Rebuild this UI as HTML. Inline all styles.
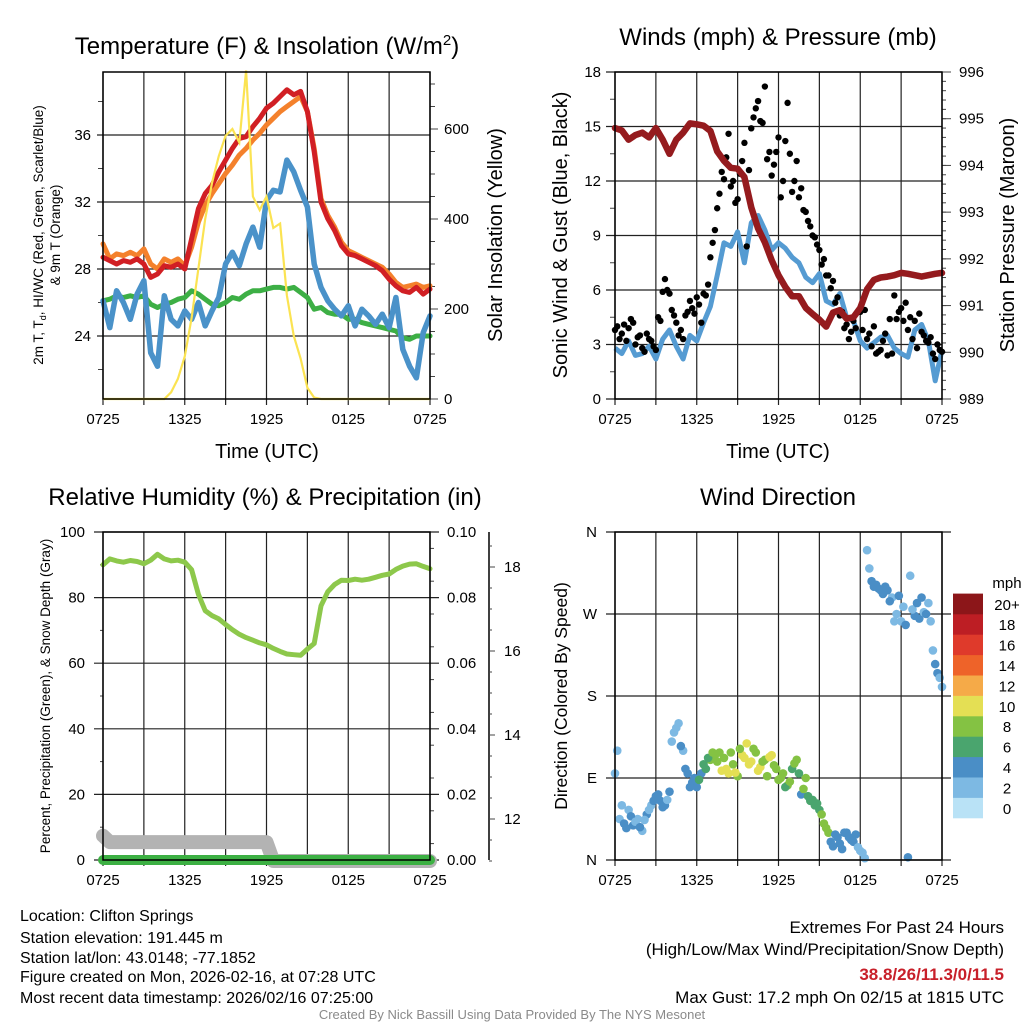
<!DOCTYPE html>
<html><head><meta charset="utf-8"><style>
html,body{margin:0;padding:0;background:#fff;}
svg{display:block;font-family:"Liberation Sans",sans-serif;}
</style></head><body>
<svg id="root" width="1024" height="1024" viewBox="0 0 1024 1024" xmlns="http://www.w3.org/2000/svg"></svg>
<script>
// ---------- DATA ----------
const timeLabels = ["0725","1325","1925","0125","0725"];
const tempTicks = [24,28,32,36];
const solarTicks = [0,200,400,600];
const windTicks = [0,3,6,9,12,15,18];
const presTicks = [989,990,991,992,993,994,995,996];
const rhTicks = [0,20,40,60,80,100];
const precipTicks = ["0.00","0.02","0.04","0.06","0.08","0.10"];
const snowTicks = [12,14,16,18];
const dirTickLabels = ["N","E","S","W","N"];
const speedBinLabels = ["0","2","4","6","8","10","12","14","16","18","20+"];
const speedBinColors = ["#b9e2f6","#7db9e3","#4a8ec6","#4aa56e","#84c243","#e4df54","#f5aa48","#ee6329","#df3a2b","#bd1e24","#8c1619"];

// half-hourly series (49 values, 0..24 h)
const tempRed = [28.7,28.5,28.3,28.5,28.4,28.6,28.3,27.5,27.7,28.2,28.1,28.3,28.0,29.8,31.6,32.5,33.0,33.8,34.5,35.2,35.8,35.9,36.5,37.0,37.6,37.9,38.3,38.7,38.4,38.6,37.4,35.0,32.0,31.0,30.3,29.4,28.9,28.8,28.6,28.4,28.2,27.9,27.4,27.0,26.7,26.6,26.9,26.5,26.8];
const tempOrange = [29.5,28.6,28.9,28.8,29.0,28.8,29.2,28.3,28.0,28.6,28.4,28.6,28.2,29.3,30.8,31.8,32.5,33.1,33.7,34.2,34.8,35.2,35.7,36.1,36.6,37.0,37.4,37.7,38.0,38.3,37.4,35.2,32.2,31.2,30.5,29.6,29.1,28.9,28.7,28.5,28.3,28.1,27.7,27.2,26.9,27.0,27.1,26.9,27.0];
const dewGreen = [26.1,26.2,26.4,26.3,26.4,26.3,26.4,25.9,25.7,25.9,26.0,26.2,26.3,26.7,26.5,26.2,25.9,25.8,26.0,26.3,26.2,26.5,26.7,26.7,26.8,26.9,26.9,26.8,26.9,26.6,26.3,25.6,25.7,25.4,25.3,25.3,25.0,25.0,24.8,24.7,24.6,24.5,24.4,24.3,23.9,23.8,24.0,24.0,24.0];
const chillBlue = [26.1,24.5,26.7,26.0,25.0,26.5,27.3,23.0,22.2,26.4,25.0,24.6,25.5,25.0,26.0,24.6,25.5,26.3,28.3,29.0,28.2,29.5,30.5,29.3,32.1,32.7,32.6,34.5,33.8,32.7,31.7,28.3,26.9,26.1,25.6,25.2,25.8,24.6,25.6,25.2,24.7,25.3,24.5,26.3,23.2,22.2,21.5,24.2,25.2];
const solarYellow = [0,0,0,0,0,0,0,0,0,0,15,45,95,180,290,400,480,540,585,600,570,730,450,420,450,380,390,230,140,90,25,3,0,0,0,0,0,0,0,0,0,0,0,0,0,0,0,0,0];
const windBlue = [2.8,2.5,3.2,2.4,2.5,2.9,2.2,3.3,3.8,2.9,2.2,3.5,3.2,4.2,5.1,6.8,8.6,8.4,9.2,7.5,9.7,10.1,9.3,8.2,8.6,8.3,7.8,7.5,6.7,6.4,6.9,5.4,5.2,5.8,4.5,4.3,3.2,2.8,3.1,3.4,3.5,2.8,2.5,2.3,3.8,4.1,3.2,1.0,2.7];
const pressure = [994.8,994.75,994.55,994.65,994.7,994.6,994.8,994.55,994.25,994.55,994.7,994.9,994.88,994.85,994.74,994.3,994.1,993.95,993.93,993.75,993.1,992.65,992.35,991.97,991.65,991.4,991.2,991.2,990.95,990.82,990.7,990.55,990.85,990.9,990.72,990.75,990.95,991.35,991.55,991.6,991.62,991.65,991.7,991.68,991.65,991.62,991.65,991.68,991.7];
const rhGreen = [90,91.8,91.2,90.8,91.3,91.0,90.3,91.4,93.2,91.8,91.2,91.4,90.8,88.5,81,76,74.5,73.5,71.8,70.2,68.8,67.8,67,66.2,65.6,64.5,63.6,62.8,62.6,62.4,64.3,66,77.5,81.8,84,85.3,85.2,85.6,85.3,85.6,86.2,86.8,87.2,88.6,89.6,90.2,90.3,89.5,88.8];
const precip = [0,0,0,0,0,0,0,0,0,0,0,0,0,0,0,0,0,0,0,0,0,0,0,0,0,0,0,0,0,0,0,0,0,0,0,0,0,0,0,0,0,0,0,0,0,0,0,0,0];
const snowDepth = [11.6,11.45,11.45,11.45,11.45,11.45,11.45,11.45,11.45,11.45,11.45,11.45,11.45,11.45,11.45,11.45,11.45,11.45,11.45,11.45,11.45,11.45,11.45,11.45,11.45,11.0,11.0,11.0,11.0,11.0,11.0,11.0,11.0,11.0,11.0,11.0,11.0,11.0,11.0,11.0,11.0,11.0,11.0,11.0,11.0,11.0,11.0,11.0,11.0];

// 20-minute series (73 values, h = i/3)
const gusts = [3.8,3.3,4.1,3.9,4.2,3.4,2.8,3.6,3.2,2.7,4.3,6.6,5.8,4.6,3.5,3.3,4.8,5.0,5.6,4.2,5.7,7.8,9.3,11.3,12.1,14.6,12.0,11.0,13.1,8.4,14.9,16.0,15.3,17.2,13.6,12.9,14.4,12.0,16.3,11.4,13.1,11.6,10.3,9.5,8.9,8.2,7.7,6.8,6.5,5.6,4.8,4.1,3.7,3.9,4.8,4.9,3.6,4.0,2.6,3.2,2.4,2.5,4.4,5.0,5.3,4.5,4.3,4.7,3.5,3.1,2.5,3.0,2.6];
const windDir = [95,45,40,55,38,45,32,50,60,70,65,60,75,140,150,120,95,85,80,95,100,110,115,118,112,95,105,92,115,128,108,118,102,110,113,104,88,95,82,100,110,72,90,65,60,55,40,30,15,25,12,30,22,28,10,2,320,300,298,292,296,288,270,262,258,312,268,265,272,282,230,205,190];
const dirSpeed = [2.6,2.4,3.2,2.8,3.4,2.7,2.5,3.1,2.9,4.0,3.6,4.2,3.3,2.8,2.4,2.6,4.1,4.3,4.2,3.8,6.5,7.2,8.4,8.6,7.8,9.4,8.8,8.2,9.6,9.3,9.8,8.9,9.5,8.6,9.2,8.4,8.3,7.9,8.5,6.8,7.2,4.2,8.0,6.5,6.7,6.4,8.2,7.9,4.3,3.9,4.4,3.7,4.1,3.0,2.6,2.5,2.8,3.2,4.3,4.4,3.8,2.7,2.9,2.6,3.6,2.2,3.8,3.5,1.4,2.5,2.8,3.3,2.7];
// offset 20-minute series (72 values, h = i/3 + 1/6)
const gustsB = [4.0,3.6,3.2,4.4,3.0,3.5,2.6,3.3,2.9,4.5,5.9,6.0,4.9,4.2,3.8,4.6,5.4,4.7,5.2,5.8,6.3,8.6,10.5,12.5,13.3,11.7,10.8,12.4,14.1,12.6,15.5,16.4,15.2,13.2,12.3,13.6,11.1,14.2,13.5,12.0,11.1,10.4,9.8,9.0,8.5,7.4,6.8,6.1,5.3,4.6,3.9,3.3,4.3,4.8,3.8,3.3,2.9,2.5,2.7,3.6,4.4,5.7,4.8,4.3,3.8,3.3,2.8,3.7,3.2,3.4,2.2,2.7];
const windDirB = [120,60,35,48,42,36,44,55,65,72,58,66,130,145,125,100,80,90,88,105,112,118,108,98,100,118,96,122,112,105,122,98,108,92,115,100,90,80,86,106,95,78,70,66,62,50,35,20,28,18,30,25,20,14,8,340,306,302,296,300,284,262,290,278,3,275,282,288,270,262,215,200];
const dirSpeedB = [2.5,2.7,3.0,4.1,2.6,3.2,2.4,2.9,3.8,4.2,3.5,2.8,2.7,2.3,3.0,4.4,4.1,4.5,5.2,6.4,6.9,8.3,8.7,9.5,9.4,8.2,9.7,8.6,9.9,9.1,8.8,9.4,8.0,8.7,9.2,7.6,8.3,6.6,7.7,8.2,6.9,7.4,6.3,6.6,6.2,8.4,7.8,4.2,4.5,3.9,4.1,3.6,4.3,2.7,2.9,2.6,3.4,4.0,4.2,3.9,3.1,2.7,3.3,1.2,3.7,2.4,3.0,4.1,3.2,2.8,3.0,2.6];

// ---------- DRAWING ----------
const NS = "http://www.w3.org/2000/svg";
const root = document.getElementById("root");
function mk(tag, attrs, parent){const e=document.createElementNS(NS,tag);for(const k in attrs)e.setAttribute(k,attrs[k]);(parent||root).appendChild(e);return e;}
function txt(s, attrs, parent){const e=mk("text",attrs,parent);e.textContent=s;return e;}
function linScale(d0,d1,r0,r1){return v=>r0+(v-d0)*(r1-r0)/(d1-d0);}
function pathFrom(arr, xs, ys, step){let d="";arr.forEach((v,i)=>{d+=(i?"L":"M")+xs(i*step).toFixed(1)+","+ys(v).toFixed(1);});return d;}

function frame(g, x0,y0,x1,y1, name){
  const xs=linScale(0,24,x0,x1);
  for(let h=0;h<=24;h+=3){
    const l=mk("line",{x1:xs(h),x2:xs(h),y1:y0,y2:y1+6,stroke:"#222","stroke-width":1.2},g);
    
    
  }
  for(let i=0;i<timeLabels.length;i++){
    const t=txt(timeLabels[i],{x:xs(i*6),y:y1+25,"font-size":15,"text-anchor":"middle",fill:"#000"},g);
    
    
  }
  return xs;
}
function border(g,x0,y0,x1,y1){
  const r=mk("rect",{x:x0,y:y0,width:x1-x0,height:y1-y0,fill:"none",stroke:"#000","stroke-width":1.5},g);
  
  
}
function hgrid(g,x0,x1,y,left,right){
  const l=mk("line",{x1:x0-(left||0),x2:x1+(right||0),y1:y,y2:y,stroke:"#222","stroke-width":1.2},g);
  
  
}
function minorTick(g,x,y,len){
  const l=mk("line",{x1:x,x2:x+len,y1:y,y2:y,stroke:"#444","stroke-width":1},g);
  
  
}
function title(g,s,x,y,size){return txt(s,{x:x,y:y,"font-size":size,"text-anchor":"middle",fill:"#000"},g);}
function vtitle(g,s,x,y,size){return txt(s,{x:0,y:0,"font-size":size,"text-anchor":"middle",fill:"#000",transform:`translate(${x},${y}) rotate(-90)`},g);}

// ===== Panel 1: Temperature =====
(function(){
  const g=mk("g",{});
  
  
  const x0=103,x1=430,y0=72,y1=399;
  const xs=frame(g,x0,y0,x1,y1,'temp');
  const ys=linScale(24,36,336,135);
  const ysR=linScale(0,600,399,129);
  for(let v=22;v<=38;v+=4){minorTick(g,x0-5,ys(v),5);}
  for(const v of tempTicks){hgrid(g,x0,x1,ys(v),6,0);
    const t=txt(v,{x:x0-12,y:ys(v)+5,"font-size":15,"text-anchor":"end"},g);
    
    }
  for(let v=0;v<=700;v+=50){minorTick(g,x1,ysR(v),v%200===0?8:5);}
  for(const v of solarTicks){
    const t=txt(v,{x:x1+14,y:ysR(v)+5,"font-size":15,"text-anchor":"start"},g);
    
    }
  const series=[[dewGreen,"#3daf45",5,'dewpoint-line'],[chillBlue,"#4a92c9",5.5,'windchill-line'],[tempOrange,"#f4812c",5,'temp-9m-line'],[tempRed,"#d11f24",5,'temp-2m-line']];
  for(const [arr,c,w,n] of series){
    const p=mk("path",{d:pathFrom(arr,xs,ys,0.5),fill:"none",stroke:c,"stroke-width":w,"stroke-linejoin":"round","stroke-linecap":"round"},g);
    
    
  }
  const sp=mk("path",{d:pathFrom(solarYellow,xs,ysR,0.5),fill:"none",stroke:"#fbe352","stroke-width":2.2},g);
  
  
  border(g,x0,y0,x1,y1);
  const t1=txt("",{x:267,y:54,"font-size":24,"text-anchor":"middle"},g);
  t1.innerHTML='Temperature (F) &amp; Insolation (W/m<tspan dy="-9" font-size="15">2</tspan><tspan dy="9">)</tspan>';
  
  
  const a=title(g,"Time (UTC)",267,458,20);
  
  
  const l1=txt("",{x:0,y:0,"font-size":13.5,"text-anchor":"middle",transform:"translate(43,235) rotate(-90)"},g);
  l1.innerHTML='2m T, T<tspan dy="3" font-size="9">d</tspan><tspan dy="-3">, HI/WC (Red, Green, Scarlet/Blue)</tspan>';
  
  
  const l2=vtitle(g,"& 9m T (Orange)",60,235,13.5);
  
  
  const r=vtitle(g,"Solar Insolation (Yellow)",502,235,20);
  
  
})();

// ===== Panel 2: Winds =====
(function(){
  const g=mk("g",{});
  
  
  const x0=615,x1=942,y0=72,y1=399;
  const xs=frame(g,x0,y0,x1,y1,'wind');
  const ys=linScale(0,18,399,72);
  const ysR=linScale(989,996,399,72);
  for(let v=1.5;v<18;v+=3){minorTick(g,x0-5,ys(v),5);}
  for(const v of windTicks){hgrid(g,x0,x1,ys(v),9,0);
    const t=txt(v,{x:x0-14,y:ys(v)+5,"font-size":15,"text-anchor":"end"},g);
    
    }
  for(let v=989;v<=996;v+=0.2){minorTick(g,x1,ysR(v),4);}
  for(const v of presTicks){minorTick(g,x1,ysR(v),9);
    const t=txt(v,{x:x1+17,y:ysR(v)+5,"font-size":15,"text-anchor":"start"},g);
    
    }
  const bp=mk("path",{d:pathFrom(windBlue,xs,ys,0.5),fill:"none",stroke:"#559bd2","stroke-width":5,"stroke-linejoin":"round"},g);
  
  
  gusts.forEach((v,i)=>{
    const c=mk("circle",{cx:xs(i/3),cy:ys(v),r:3.2,fill:"#000"},g);
    
    
  });
  gustsB.forEach((v,i)=>{
    const c=mk("circle",{cx:xs(i/3+1/6),cy:ys(v),r:3.2,fill:"#000"},g);
    
    
  });
  const pp=mk("path",{d:pathFrom(pressure,xs,ysR,0.5),fill:"none",stroke:"#951b1e","stroke-width":6.5,"stroke-linejoin":"round","stroke-linecap":"round"},g);
  
  
  border(g,x0,y0,x1,y1);
  const t=title(g,"Winds (mph) & Pressure (mb)",778,45,24);
  
  
  const a=title(g,"Time (UTC)",778,458,20);
  
  
  const l=vtitle(g,"Sonic Wind & Gust (Blue, Black)",567,235,20);
  
  
  const r=vtitle(g,"Station Pressure (Maroon)",1014,235,20);
  
  
})();

// ===== Panel 3: RH =====
(function(){
  const g=mk("g",{});
  
  
  const x0=103,x1=430,y0=532,y1=860;
  const xs=frame(g,x0,y0,x1,y1,'rh');
  const ys=linScale(0,100,860,532);
  const ysP=linScale(0,0.1,860,532);
  const ysS=linScale(12,18,819,567);
  for(let v=10;v<100;v+=20){minorTick(g,x0-3,ys(v),3);}
  for(const v of rhTicks){hgrid(g,x0,x1,ys(v),9,9);
    const t=txt(v,{x:x0-18,y:ys(v)+5,"font-size":15,"text-anchor":"end"},g);
    
    }
  for(let v=0.005;v<0.1;v+=0.01){minorTick(g,x1,ysP(v),4);}
  precipTicks.forEach((s,i)=>{
    const t=txt(s,{x:x1+17,y:ysP(i*0.02)+5,"font-size":15,"text-anchor":"start"},g);
    
    });
  const ax=mk("line",{x1:489,x2:489,y1:y0,y2:y1,stroke:"#000","stroke-width":1.5},g);
  
  
  for(let v=11;v<=18.5;v+=0.5){minorTick(g,489,ysS(v),v%2===0?6:3);}
  for(const v of snowTicks){
    const t=txt(v,{x:504,y:ysS(v)+5,"font-size":15,"text-anchor":"start"},g);
    
    }
  const sp=mk("path",{d:pathFrom(snowDepth,xs,ysS,0.5),fill:"none",stroke:"#b3b3b3","stroke-width":14,"stroke-linecap":"round","stroke-linejoin":"round"},g);
  
  
  const pp=mk("path",{d:pathFrom(precip,xs,ysP,0.5),fill:"none",stroke:"#3cb043","stroke-width":10,"stroke-linecap":"round"},g);
  
  
  const rp=mk("path",{d:pathFrom(rhGreen,xs,ys,0.5),fill:"none",stroke:"#8dc84b","stroke-width":5,"stroke-linejoin":"round","stroke-linecap":"round"},g);
  
  
  border(g,x0,y0,x1,y1);
  const t=title(g,"Relative Humidity (%) & Precipitation (in)",265,505,24);
  
  
  const l=vtitle(g,"Percent, Precipitation (Green), & Snow Depth (Gray)",50,696,13.5);
  
  
})();

// ===== Panel 4: Wind direction =====
(function(){
  const g=mk("g",{});
  
  
  const x0=615,x1=942,y0=532,y1=860;
  const xs=frame(g,x0,y0,x1,y1,'dir');
  const ys=linScale(0,360,860,532);
  dirTickLabels.forEach((s,i)=>{hgrid(g,x0,x1,ys(i*90),9,9);
    const t=txt(s,{x:x0-18,y:ys(i*90)+5,"font-size":15,"text-anchor":"end"},g);
    
    });
  function bin(s){return Math.min(10,Math.max(0,Math.round(s/2)));}
  windDir.forEach((v,i)=>{
    const c=mk("circle",{cx:xs(i/3),cy:ys(v),r:4.3,fill:speedBinColors[bin(dirSpeed[i])]},g);
    
    
  });
  windDirB.forEach((v,i)=>{
    const c=mk("circle",{cx:xs(i/3+1/6),cy:ys(v),r:4.3,fill:speedBinColors[bin(dirSpeedB[i]||3)]},g);
    
    
  });
  border(g,x0,y0,x1,y1);
  const cb0=818,h=20.4;
  speedBinColors.forEach((c,i)=>{
    const r=mk("rect",{x:953,y:cb0-(i+1)*h,width:30,height:h+0.3,fill:c},g);
    
    
    const t=txt(speedBinLabels[i],{x:1007,y:cb0-(i+0.5)*h+6,"font-size":15,"text-anchor":"middle"},g);
    
    
  });
  const m=txt("mph",{x:1007,y:588,"font-size":15,"text-anchor":"middle"},g);
  
  
  const t=title(g,"Wind Direction",778,505,24);
  
  
  const l=vtitle(g,"Direction (Colored By Speed)",567,696,17.5);
  
  
})();

// ===== Footer text =====
(function(){
  const g=mk("g",{});
  
  
  const lines=["Location: Clifton Springs","Station elevation: 191.445 m","Station lat/lon: 43.0148; -77.1852","Figure created on Mon, 2026-02-16, at 07:28 UTC","Most recent data timestamp: 2026/02/16 07:25:00"];
  const ys=[921,943,963,982,1003];
  lines.forEach((s,i)=>{const t=txt(s,{x:20,y:ys[i],"font-size":16},g);
    
    });
  const g2=mk("g",{});
  
  
  const r=[["Extremes For Past 24 Hours",933,"#000","normal"],["(High/Low/Max Wind/Precipitation/Snow Depth)",955,"#000","normal"],["38.8/26/11.3/0/11.5",980,"#c8202a","bold"],["Max Gust: 17.2 mph On 02/15 at 1815 UTC",1003,"#000","normal"]];
  r.forEach(([s,y,c,w])=>{const t=txt(s,{x:1004,y:y,"font-size":17,"text-anchor":"end",fill:c,"font-weight":w},g2);
    
    });
  const c=txt("Created By Nick Bassill Using Data Provided By The NYS Mesonet",{x:512,y:1019,"font-size":13,"text-anchor":"middle",fill:"#8a8a8a"});
  
  
})();
</script>
</body></html>
